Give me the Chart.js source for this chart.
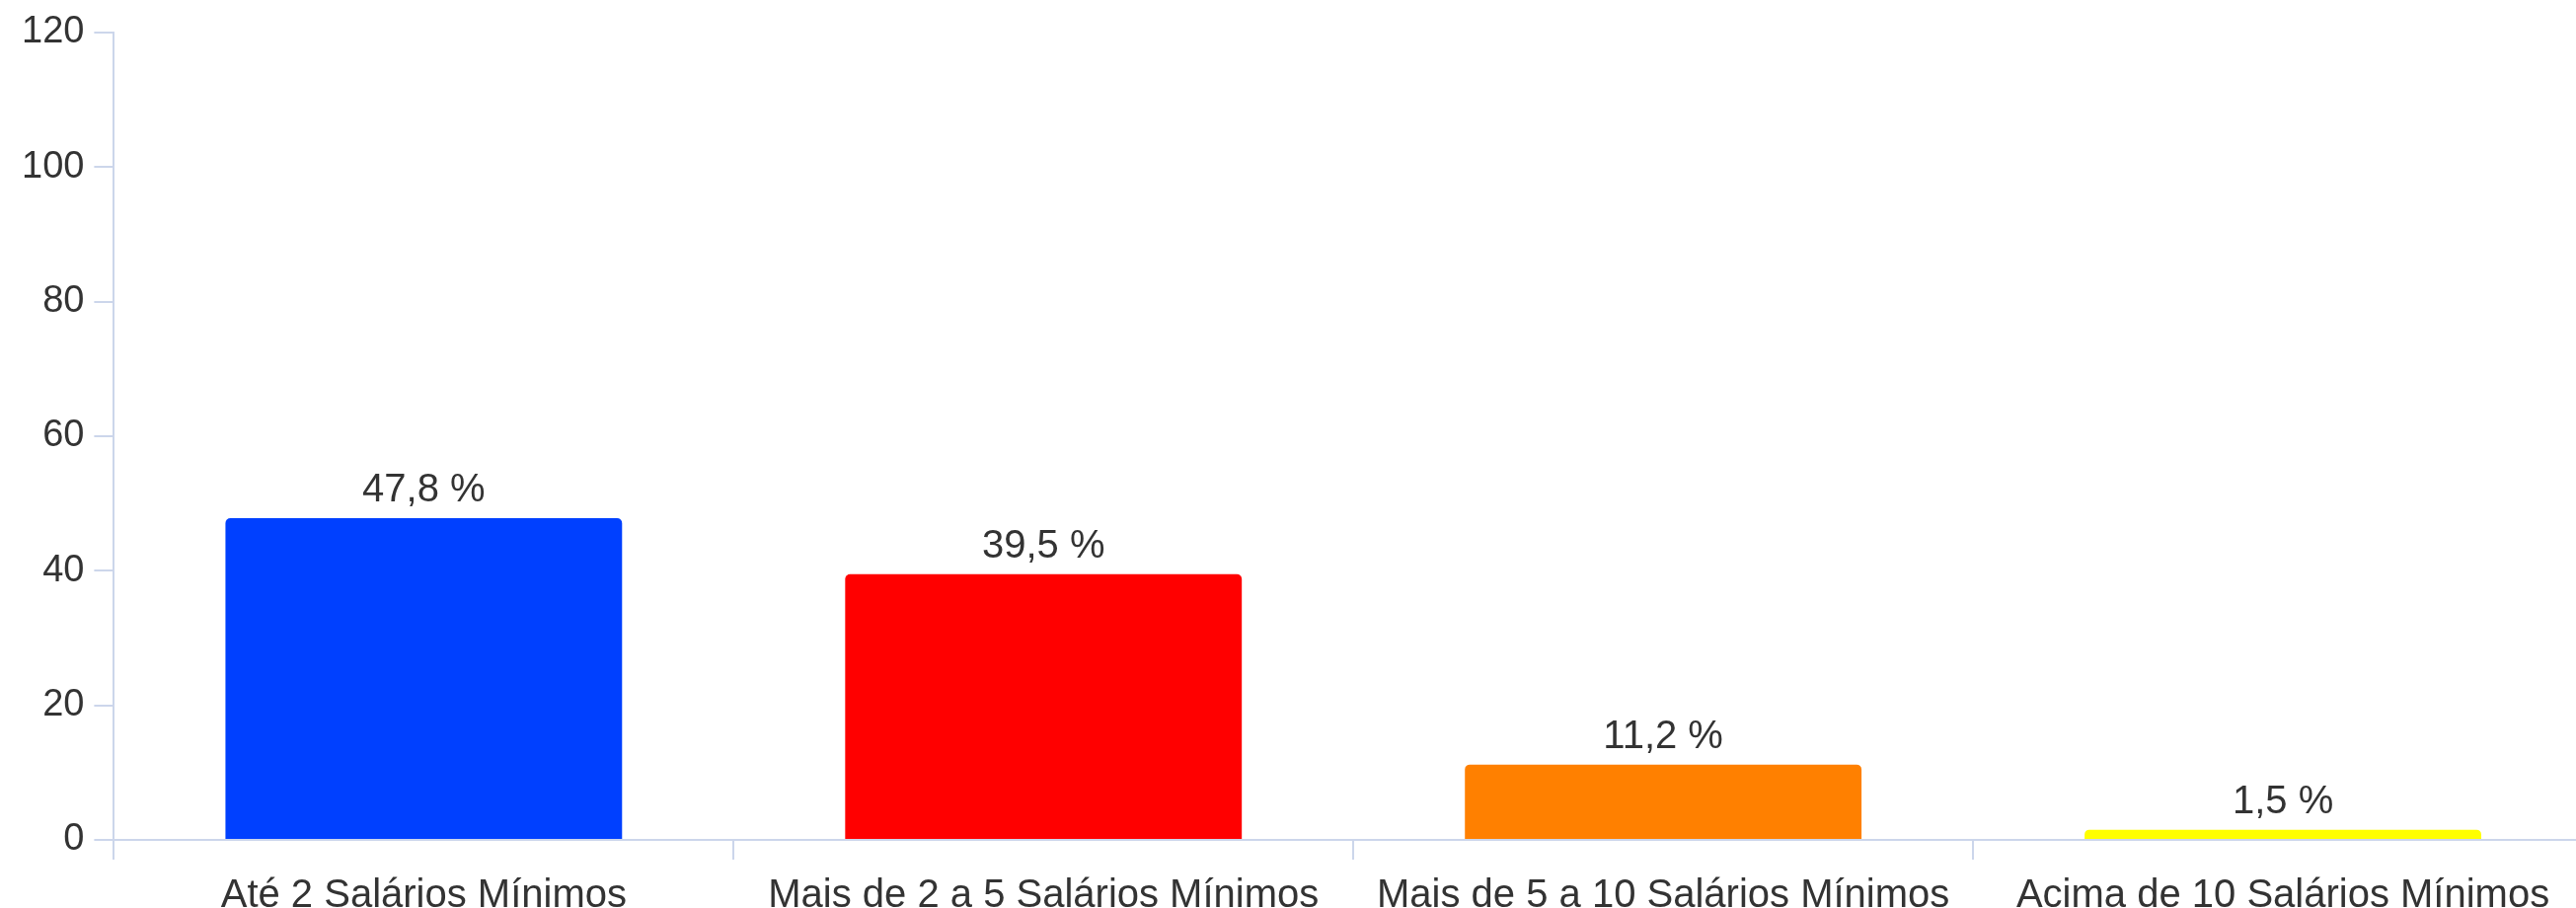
<!DOCTYPE html>
<html lang="pt-BR">
<head>
<meta charset="utf-8">
<title>Renda familiar</title>
<script src="https://cdn.jsdelivr.net/npm/chart.js@4"></script>
<style>
  html, body { margin: 0; padding: 0; background: #ffffff; overflow: hidden; }
  #caixa { width: 2630px; height: 945px; position: relative; }
</style>
</head>
<body>
<div id="caixa"><canvas id="grafico"></canvas></div>
<script>
// dados
const categorias = [
  'Até 2 Salários Mínimos',
  'Mais de 2 a 5 Salários Mínimos',
  'Mais de 5 a 10 Salários Mínimos',
  'Acima de 10 Salários Mínimos'
];
const percentuais = [47.8, 39.5, 11.2, 1.5];
const cores = ['#0040ff', '#ff0000', '#ff8000', '#ffff00'];
const ticksY = [0, 20, 40, 60, 80, 100, 120];

const corTexto = '#333333';
const corEixo = '#ccd6eb';
const fonte = "'Liberation Sans', Arial, sans-serif";

/**
 * Rótulos de valor acima das barras
 */
const rotulosValores = {
  id: 'rotulosValores',
  afterDatasetsDraw(chart) {
    const { ctx } = chart;
    const meta = chart.getDatasetMeta(0);
    ctx.save();
    ctx.font = `40px ${fonte}`;
    ctx.fillStyle = corTexto;
    ctx.textAlign = 'center';
    ctx.textBaseline = 'alphabetic';
    meta.data.forEach((barra, i) => {
      const texto = percentuais[i].toFixed(1).replace('.', ',') + ' %';
      ctx.fillText(texto, barra.x, barra.y - 17);
    });
    ctx.restore();
  }
};

const ctx = document.getElementById('grafico').getContext('2d');

new Chart(ctx, {
  type: 'bar',
  data: {
    labels: categorias,
    datasets: [{
      data: percentuais,
      backgroundColor: cores,
      borderWidth: 0,
      borderRadius: { topLeft: 5, topRight: 5, bottomLeft: 0, bottomRight: 0 },
      borderSkipped: 'bottom',
      barPercentage: 0.8,
      categoryPercentage: 0.8
    }]
  },
  options: {
    responsive: true,
    maintainAspectRatio: false,
    animation: false,
    devicePixelRatio: 1,
    layout: { padding: { left: 12, top: 8, right: 3, bottom: 0 } },
    plugins: {
      legend: { display: false },
      tooltip: { enabled: false },
      title: { display: false }
    },
    scales: {
      x: {
        offset: true,
        grid: {
          display: true,
          offset: true,
          drawOnChartArea: false,
          drawTicks: true,
          tickLength: 20,
          color: corEixo,
          lineWidth: 2
        },
        border: { display: true, color: corEixo, width: 2 },
        ticks: {
          color: corTexto,
          padding: 25,
          maxRotation: 0,
          autoSkip: false,
          font: { family: fonte, size: 40, lineHeight: 0.6 }
        }
      },
      y: {
        min: 0,
        max: 120,
        afterBuildTicks(escala) {
          escala.ticks = ticksY.map(v => ({ value: v }));
        },
        grid: {
          display: true,
          drawOnChartArea: false,
          drawTicks: true,
          tickLength: 20,
          color: corEixo,
          lineWidth: 2
        },
        border: { display: true, color: corEixo, width: 2 },
        ticks: {
          color: corTexto,
          padding: 10,
          font: { family: fonte, size: 38, lineHeight: 1.2 }
        }
      }
    }
  },
  plugins: [rotulosValores]
});
</script>
</body>
</html>
